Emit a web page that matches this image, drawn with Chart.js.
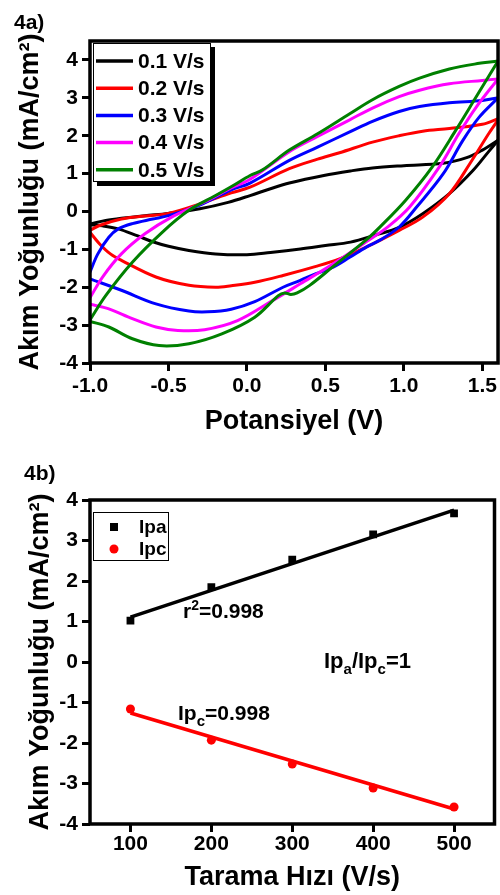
<!DOCTYPE html>
<html><head><meta charset="utf-8">
<script src="https://cdn.jsdelivr.net/npm/chart.js@4.4.0/dist/chart.umd.min.js"></script>
<style>
html,body{margin:0;padding:0;background:#fff;}
#wrap{position:relative;width:500px;height:895px;overflow:hidden;}
canvas{position:absolute;left:0;}
</style></head><body>
<div id="wrap">
<canvas id="c1" width="500" height="445" style="top:0"></canvas>
<canvas id="c2" width="500" height="450" style="top:445px"></canvas>
</div>
<script>
// ---------- Panel 4a data (cyclic voltammograms) ----------
const cvLabels = ['0.1 V/s','0.2 V/s','0.3 V/s','0.4 V/s','0.5 V/s'];
const cvColors = ['#000000','#ff0000','#0000ff','#ff00ff','#008000'];
const cvXTicks = [-1.0,-0.5,0.0,0.5,1.0,1.5];
const cvXTickLabels = ['-1.0','-0.5','0.0','0.5','1.0','1.5'];
const cvYTicks = [-4,-3,-2,-1,0,1,2,3,4];
const cvYTickLabels = ['-4','-3','-2','-1','0','1','2','3','4'];

const cv01Fwd = [[-1.0,-0.33],[-0.9,-0.24],[-0.8,-0.18],[-0.65,-0.11],[-0.5,-0.05],[-0.3,0.07],[-0.12,0.24],[0.02,0.42],[0.15,0.6],[0.27,0.75],[0.49,0.95],[0.66,1.07],[0.8,1.15],[1.0,1.21],[1.25,1.27],[1.4,1.42],[1.5,1.62],[1.6,1.88]];
const cv01Rev = [[1.6,1.88],[1.54,1.58],[1.44,1.08],[1.29,0.47],[1.12,-0.06],[0.97,-0.42],[0.82,-0.62],[0.66,-0.81],[0.5,-0.9],[0.34,-0.99],[0.15,-1.08],[0.0,-1.14],[-0.2,-1.12],[-0.37,-1.03],[-0.5,-0.92],[-0.6,-0.8],[-0.7,-0.64],[-0.82,-0.46],[-0.92,-0.38],[-1.0,-0.35]];
const cv02Fwd = [[-1.0,-0.5],[-0.94,-0.37],[-0.8,-0.2],[-0.65,-0.12],[-0.5,-0.05],[-0.3,0.2],[-0.1,0.49],[0.02,0.64],[0.27,1.13],[0.45,1.38],[0.59,1.55],[0.8,1.83],[0.97,2.0],[1.12,2.12],[1.29,2.19],[1.5,2.3],[1.6,2.45]];
const cv02Rev = [[1.6,2.42],[1.54,2.05],[1.42,1.26],[1.29,0.47],[1.12,-0.15],[0.97,-0.5],[0.76,-0.94],[0.59,-1.25],[0.44,-1.45],[0.23,-1.69],[0.05,-1.87],[-0.1,-1.96],[-0.2,-2.0],[-0.37,-1.95],[-0.58,-1.73],[-0.8,-1.29],[-0.87,-1.12],[-0.94,-0.85],[-1.0,-0.55]];
const cv03Fwd = [[-1.0,-1.6],[-0.95,-1.12],[-0.88,-0.68],[-0.82,-0.46],[-0.73,-0.32],[-0.6,-0.2],[-0.5,-0.11],[-0.3,0.17],[-0.1,0.57],[0.02,0.75],[0.27,1.35],[0.45,1.7],[0.655,2.1],[0.8,2.38],[0.97,2.64],[1.1,2.77],[1.29,2.87],[1.5,2.93],[1.6,3.0]];
const cv03Rev = [[1.6,3.0],[1.48,2.49],[1.375,1.87],[1.25,0.99],[1.08,0.11],[0.97,-0.41],[0.85,-0.75],[0.76,-0.94],[0.655,-1.21],[0.55,-1.47],[0.44,-1.64],[0.34,-1.82],[0.23,-2.0],[0.05,-2.38],[-0.1,-2.58],[-0.25,-2.65],[-0.37,-2.63],[-0.58,-2.44],[-0.8,-2.08],[-1.0,-1.78]];
const cv04Fwd = [[-1.0,-2.28],[-0.92,-1.73],[-0.8,-1.12],[-0.65,-0.59],[-0.48,-0.15],[-0.27,0.25],[-0.1,0.62],[0.02,0.85],[0.27,1.58],[0.45,1.98],[0.655,2.42],[0.8,2.73],[0.97,3.03],[1.1,3.2],[1.29,3.37],[1.5,3.46],[1.6,3.5]];
const cv04Rev = [[1.6,3.5],[1.46,2.75],[1.35,2.05],[1.225,1.17],[1.035,0.11],[0.9,-0.4],[0.76,-0.8],[0.55,-1.38],[0.34,-1.91],[0.16,-2.36],[-0.06,-2.88],[-0.27,-3.12],[-0.44,-3.14],[-0.58,-3.05],[-0.73,-2.83],[-0.88,-2.57],[-1.0,-2.45]];
const cv05Fwd = [[-1.0,-2.86],[-0.9,-2.22],[-0.73,-1.34],[-0.54,-0.55],[-0.37,0.03],[-0.2,0.42],[-0.09,0.68],[0.02,0.95],[0.1,1.1],[0.27,1.62],[0.45,2.05],[0.655,2.58],[0.8,2.95],[0.97,3.3],[1.1,3.52],[1.29,3.76],[1.45,3.89],[1.6,3.97]];
const cv05Rev = [[1.6,3.97],[1.46,3.02],[1.33,2.14],[1.18,1.17],[1.01,0.29],[0.85,-0.4],[0.76,-0.75],[0.55,-1.45],[0.4,-1.95],[0.32,-2.15],[0.28,-2.19],[0.24,-2.15],[0.2,-2.22],[0.05,-2.79],[-0.16,-3.23],[-0.37,-3.49],[-0.56,-3.54],[-0.73,-3.36],[-0.88,-3.05],[-1.0,-2.9]];
const cvForward = [cv01Fwd, cv02Fwd, cv03Fwd, cv04Fwd, cv05Fwd];
const cvReverse = [cv01Rev, cv02Rev, cv03Rev, cv04Rev, cv05Rev];

// ---------- Panel 4b data (peak current vs scan rate) ----------
const scanRates = [100,200,300,400,500];
const ipa = [1.02,1.85,2.53,3.15,3.67];
const ipc = [-1.16,-1.93,-2.52,-3.11,-3.58];
const fitRates = [100,500];
const ipaFit = [1.11,3.75];
const ipcFit = [-1.26,-3.63];
const srXTicks = [100,200,300,400,500];
const srXTickLabels = ['100','200','300','400','500'];
const srYTicks = [-4,-3,-2,-1,0,1,2,3,4];
const srYTickLabels = ['-4','-3','-2','-1','0','1','2','3','4'];

const FONT = '"Liberation Sans", Arial, Helvetica, sans-serif';
Chart.defaults.font.family = FONT;
Chart.defaults.color = '#000';

function setTicks(arr){ return s => { s.ticks = arr.map(v => ({value:v})); }; }
function bold(size){ return {family:FONT, size:size, weight:'bold'}; }

function drawRuns(ctx, x, y, runs){
  let cx = x;
  runs.forEach(r => {
    ctx.font = 'bold ' + r.size + 'px ' + FONT;
    ctx.fillText(r.t, cx, y + (r.dy||0));
    cx += ctx.measureText(r.t).width;
  });
}

const framePlugin = {
  id: 'frame',
  afterDatasetsDraw(chart){
    const {ctx, chartArea:a} = chart;
    ctx.save();
    ctx.strokeStyle = '#000';
    ctx.lineWidth = 3.5;
    ctx.strokeRect(a.left, a.top, a.right - a.left, a.bottom - a.top);
    ctx.restore();
  }
};

const legendA = {
  id: 'legendA',
  afterDraw(chart){
    const ctx = chart.ctx;
    ctx.save();
    ctx.fillStyle = '#000';
    ctx.textBaseline = 'alphabetic';
    ctx.font = 'bold 21px ' + FONT;
    ctx.fillText('4a)', 14, 29);
    const bx = 93, by = 43, bw = 118, bh = 139;
    ctx.fillStyle = '#000';
    ctx.fillRect(bx + 4, by + 4, bw, bh);
    ctx.fillStyle = '#fff';
    ctx.fillRect(bx, by, bw, bh);
    ctx.strokeStyle = '#000';
    ctx.lineWidth = 1;
    ctx.strokeRect(bx + 0.5, by + 0.5, bw - 1, bh - 1);
    ctx.textBaseline = 'middle';
    ctx.font = 'bold 21px ' + FONT;
    cvLabels.forEach((lab, i) => {
      const yy = 61 + i * 27.2;
      ctx.strokeStyle = cvColors[i];
      ctx.lineWidth = 3.5;
      ctx.beginPath(); ctx.moveTo(96, yy); ctx.lineTo(133, yy); ctx.stroke();
      ctx.fillStyle = '#000';
      ctx.fillText(lab, 138, yy + 1);
    });
    ctx.restore();
  }
};

const legendB = {
  id: 'legendB',
  afterDraw(chart){
    const ctx = chart.ctx;
    ctx.save();
    ctx.fillStyle = '#000';
    ctx.textBaseline = 'alphabetic';
    ctx.font = 'bold 21px ' + FONT;
    ctx.fillText('4b)', 24, 35);
    ctx.fillStyle = '#fff';
    ctx.fillRect(93, 67, 76, 49);
    ctx.strokeStyle = '#000';
    ctx.lineWidth = 1;
    ctx.strokeRect(93.5, 67.5, 75, 48);
    ctx.fillStyle = '#000';
    ctx.fillRect(110, 78, 8, 8);
    ctx.fillStyle = '#ff0000';
    ctx.beginPath(); ctx.arc(114, 104, 4.5, 0, Math.PI * 2); ctx.fill();
    ctx.fillStyle = '#000';
    ctx.textBaseline = 'middle';
    ctx.font = 'bold 19px ' + FONT;
    ctx.fillText('Ipa', 139, 83);
    ctx.fillText('Ipc', 139, 105);
    ctx.textBaseline = 'alphabetic';
    drawRuns(ctx, 183, 173, [{t:'r',size:21},{t:'2',size:14,dy:-8},{t:'=0.998',size:21}]);
    drawRuns(ctx, 324, 223, [{t:'Ip',size:22},{t:'a',size:15,dy:6},{t:'/Ip',size:22},{t:'c',size:15,dy:6},{t:'=1',size:22}]);
    drawRuns(ctx, 178, 275, [{t:'Ip',size:21},{t:'c',size:15,dy:6},{t:'=0.998',size:21}]);
    ctx.restore();
  }
};

// ---------- Chart 4a ----------
const cvDatasets = [];
for (let i = cvLabels.length - 1; i >= 0; i--) {
  [cvForward[i], cvReverse[i]].forEach(branch => {
    cvDatasets.push({
      label: cvLabels[i],
      data: branch.map(p => ({x:p[0], y:p[1]})),
      borderColor: cvColors[i],
      backgroundColor: cvColors[i],
      borderWidth: 3,
      pointRadius: 0,
      showLine: true,
      tension: 0.35,
      fill: false
    });
  });
}

new Chart(document.getElementById('c1'), {
  type: 'scatter',
  data: {datasets: cvDatasets},
  options: {
    responsive: false, animation: false, devicePixelRatio: 1, events: [],
    layout: {padding: {left:0, top:41, right:1.5, bottom:0}},
    plugins: {legend:{display:false}, tooltip:{enabled:false}},
    scales: {
      x: {
        type:'linear', min:-1.0, max:1.6,
        afterBuildTicks: setTicks(cvXTicks),
        afterFit: s => { s.height = 82; },
        ticks: {font:bold(21), color:'#000', padding:3, maxRotation:0, autoSkip:false,
                callback:(v,i) => cvXTickLabels[i]},
        grid: {display:true, drawOnChartArea:false, drawTicks:true, tickLength:8, tickWidth:3, tickColor:'#000'},
        border: {display:false},
        title: {display:true, text:'Potansiyel (V)', font:bold(27), color:'#000', padding:{top:0, bottom:7}}
      },
      y: {
        type:'linear', min:-4, max:4.5,
        afterBuildTicks: setTicks(cvYTicks),
        afterFit: s => { s.width = 90; },
        ticks: {font:bold(21), color:'#000', padding:4, autoSkip:false,
                callback:(v,i) => cvYTickLabels[i]},
        grid: {display:true, drawOnChartArea:false, drawTicks:true, tickLength:8, tickWidth:3, tickColor:'#000'},
        border: {display:false},
        title: {display:true, text:'Akım Yoğunluğu (mA/cm\u00B2)', font:bold(27), color:'#000', padding:{top:14, bottom:0}}
      }
    }
  },
  plugins: [framePlugin, legendA]
});

// ---------- Chart 4b ----------
new Chart(document.getElementById('c2'), {
  type: 'scatter',
  data: {datasets: [
    {label:'Ipa', data: scanRates.map((r,i)=>({x:r, y:ipa[i]})), pointStyle:'rect', pointRadius:5.5,
     backgroundColor:'#000', borderColor:'#000', borderWidth:0, showLine:false},
    {label:'Ipc', data: scanRates.map((r,i)=>({x:r, y:ipc[i]})), pointStyle:'circle', pointRadius:4.5,
     backgroundColor:'#ff0000', borderColor:'#ff0000', borderWidth:0, showLine:false},
    {label:'Ipa fit', data: fitRates.map((r,i)=>({x:r, y:ipaFit[i]})), showLine:true, pointRadius:0,
     borderColor:'#000', borderWidth:3.5},
    {label:'Ipc fit', data: fitRates.map((r,i)=>({x:r, y:ipcFit[i]})), showLine:true, pointRadius:0,
     borderColor:'#ff0000', borderWidth:3.5}
  ]},
  options: {
    responsive: false, animation: false, devicePixelRatio: 1, events: [],
    layout: {padding: {left:0, top:55, right:2, bottom:0}},
    plugins: {legend:{display:false}, tooltip:{enabled:false}},
    scales: {
      x: {
        type:'linear', min:50, max:550,
        afterBuildTicks: setTicks(srXTicks),
        afterFit: s => { s.height = 71; },
        ticks: {font:bold(21), color:'#000', padding:0, maxRotation:0, autoSkip:false,
                callback:(v,i) => srXTickLabels[i]},
        grid: {display:true, drawOnChartArea:false, drawTicks:true, tickLength:8, tickWidth:3, tickColor:'#000'},
        border: {display:false},
        title: {display:true, text:'Tarama Hızı (V/s)', font:bold(27), color:'#000', padding:{top:0, bottom:1}}
      },
      y: {
        type:'linear', min:-4, max:4,
        afterBuildTicks: setTicks(srYTicks),
        afterFit: s => { s.width = 90; },
        ticks: {font:bold(21), color:'#000', padding:4, autoSkip:false,
                callback:(v,i) => srYTickLabels[i]},
        grid: {display:true, drawOnChartArea:false, drawTicks:true, tickLength:8, tickWidth:3, tickColor:'#000'},
        border: {display:false},
        title: {display:true, text:'Akım Yoğunluğu (mA/cm\u00B2)', font:bold(27), color:'#000', padding:{top:24, bottom:0}}
      }
    }
  },
  plugins: [framePlugin, legendB]
});
</script>
</body></html>
